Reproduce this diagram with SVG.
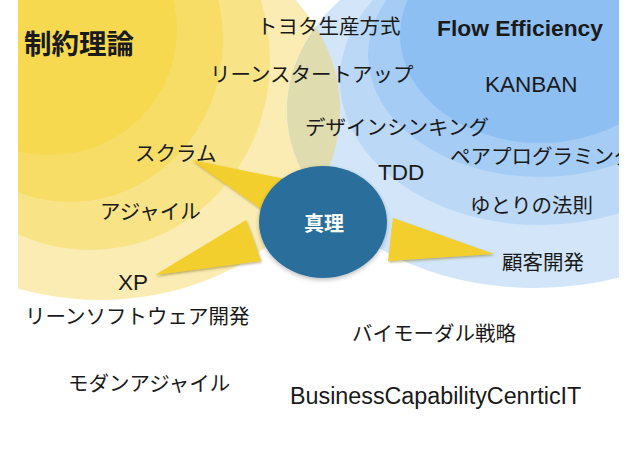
<svg xmlns="http://www.w3.org/2000/svg" width="638" height="451" viewBox="0 0 638 451">
  <defs>
    <clipPath id="slide"><rect x="18" y="0" width="601" height="451"/></clipPath>
    <clipPath id="blueOuter"><ellipse cx="535" cy="110" rx="248" ry="178"/></clipPath>
    <filter id="shadow" x="-20%" y="-20%" width="140%" height="140%">
      <feDropShadow dx="1" dy="1.5" stdDeviation="1" flood-color="#6b5a10" flood-opacity="0.45"/>
    </filter>
    <filter id="cshadow" x="-20%" y="-20%" width="140%" height="140%">
      <feDropShadow dx="0" dy="2" stdDeviation="2" flood-color="#000" flood-opacity="0.25"/>
    </filter>
  </defs>
  <style>
    .jp { font-family: "Noto Sans CJK JP", "Noto Sans", sans-serif; font-size: 20.5px; fill: #1a1a1a; }
    .en { font-family: "Liberation Sans", Arial, sans-serif; font-size: 22.5px; fill: #1a1a1a; }
    .wedge { fill: #F3CF2D; filter: url(#shadow); }
  </style>
  <rect width="638" height="451" fill="#ffffff"/>
  <g clip-path="url(#slide)">
    <g id="yellow-circles">
      <ellipse cx="100" cy="110" rx="240" ry="190" fill="#FAECB2"/>
      <ellipse cx="90" cy="60" rx="180" ry="190" fill="#F8E387"/>
      <ellipse cx="70" cy="40" rx="153" ry="162" fill="#F7DD66"/>
      <ellipse cx="50" cy="30" rx="127" ry="125" fill="#F6D94F"/>
    </g>
    <g id="blue-circles">
      <ellipse cx="535" cy="110" rx="248" ry="178" fill="#D2E5F9"/>
      <ellipse cx="100" cy="110" rx="240" ry="190" fill="#DFDCAF" clip-path="url(#blueOuter)"/>
      <ellipse cx="540" cy="80" rx="200" ry="145" fill="#BBD8F7"/>
      <ellipse cx="540" cy="55" rx="172" ry="122" fill="#A5CCF5"/>
      <ellipse cx="540" cy="35" rx="140" ry="108" fill="#8DBFF3"/>
    </g>
    <g id="connectors">
      <polygon class="wedge" points="192,160 290,180 268,214"/>
      <polygon class="wedge" points="155,275 246,220 261,261"/>
      <polygon class="wedge" points="393,218 388,261 494,254"/>
    </g>
    <g id="node-shinri">
      <ellipse cx="323" cy="222" rx="64" ry="56" fill="#2C6E9C" filter="url(#cshadow)"/>
      <text x="324" y="231" text-anchor="middle" class="jp" style="fill:#ffffff;font-weight:bold;font-size:20px">真理</text>
    </g>
    <g id="node-toc"><text x="24" y="54" class="jp" style="font-weight:bold;font-size:27.5px">制約理論</text></g>
    <g id="node-tps"><text x="257" y="34" class="jp">トヨタ生産方式</text></g>
    <g id="node-flow"><text x="437" y="36" class="en" style="font-weight:bold;font-size:22.8px">Flow Efficiency</text></g>
    <g id="node-leanstartup"><text x="210" y="82" class="jp">リーンスタートアップ</text></g>
    <g id="node-kanban"><text x="485" y="92" class="en">KANBAN</text></g>
    <g id="node-design"><text x="305" y="135" class="jp">デザインシンキング</text></g>
    <g id="node-pair"><text x="450" y="164" class="jp">ペアプログラミング</text></g>
    <g id="node-scrum"><text x="135" y="161" class="jp">スクラム</text></g>
    <g id="node-tdd"><text x="378" y="180" class="en">TDD</text></g>
    <g id="node-agile"><text x="100" y="219" class="jp">アジャイル</text></g>
    <g id="node-slack"><text x="470" y="213" class="jp">ゆとりの法則</text></g>
    <g id="node-custdev"><text x="502" y="270" class="jp">顧客開発</text></g>
    <g id="node-xp"><text x="118" y="290" class="en">XP</text></g>
    <g id="node-leansw"><text x="25" y="324" class="jp">リーンソフトウェア開発</text></g>
    <g id="node-bimodal"><text x="352" y="341" class="jp">バイモーダル戦略</text></g>
    <g id="node-modern"><text x="68" y="391" class="jp">モダンアジャイル</text></g>
    <g id="node-bcc"><text x="290" y="404" class="en" style="font-size:23.3px">BusinessCapabilityCenrticIT</text></g>
  </g>
</svg>
